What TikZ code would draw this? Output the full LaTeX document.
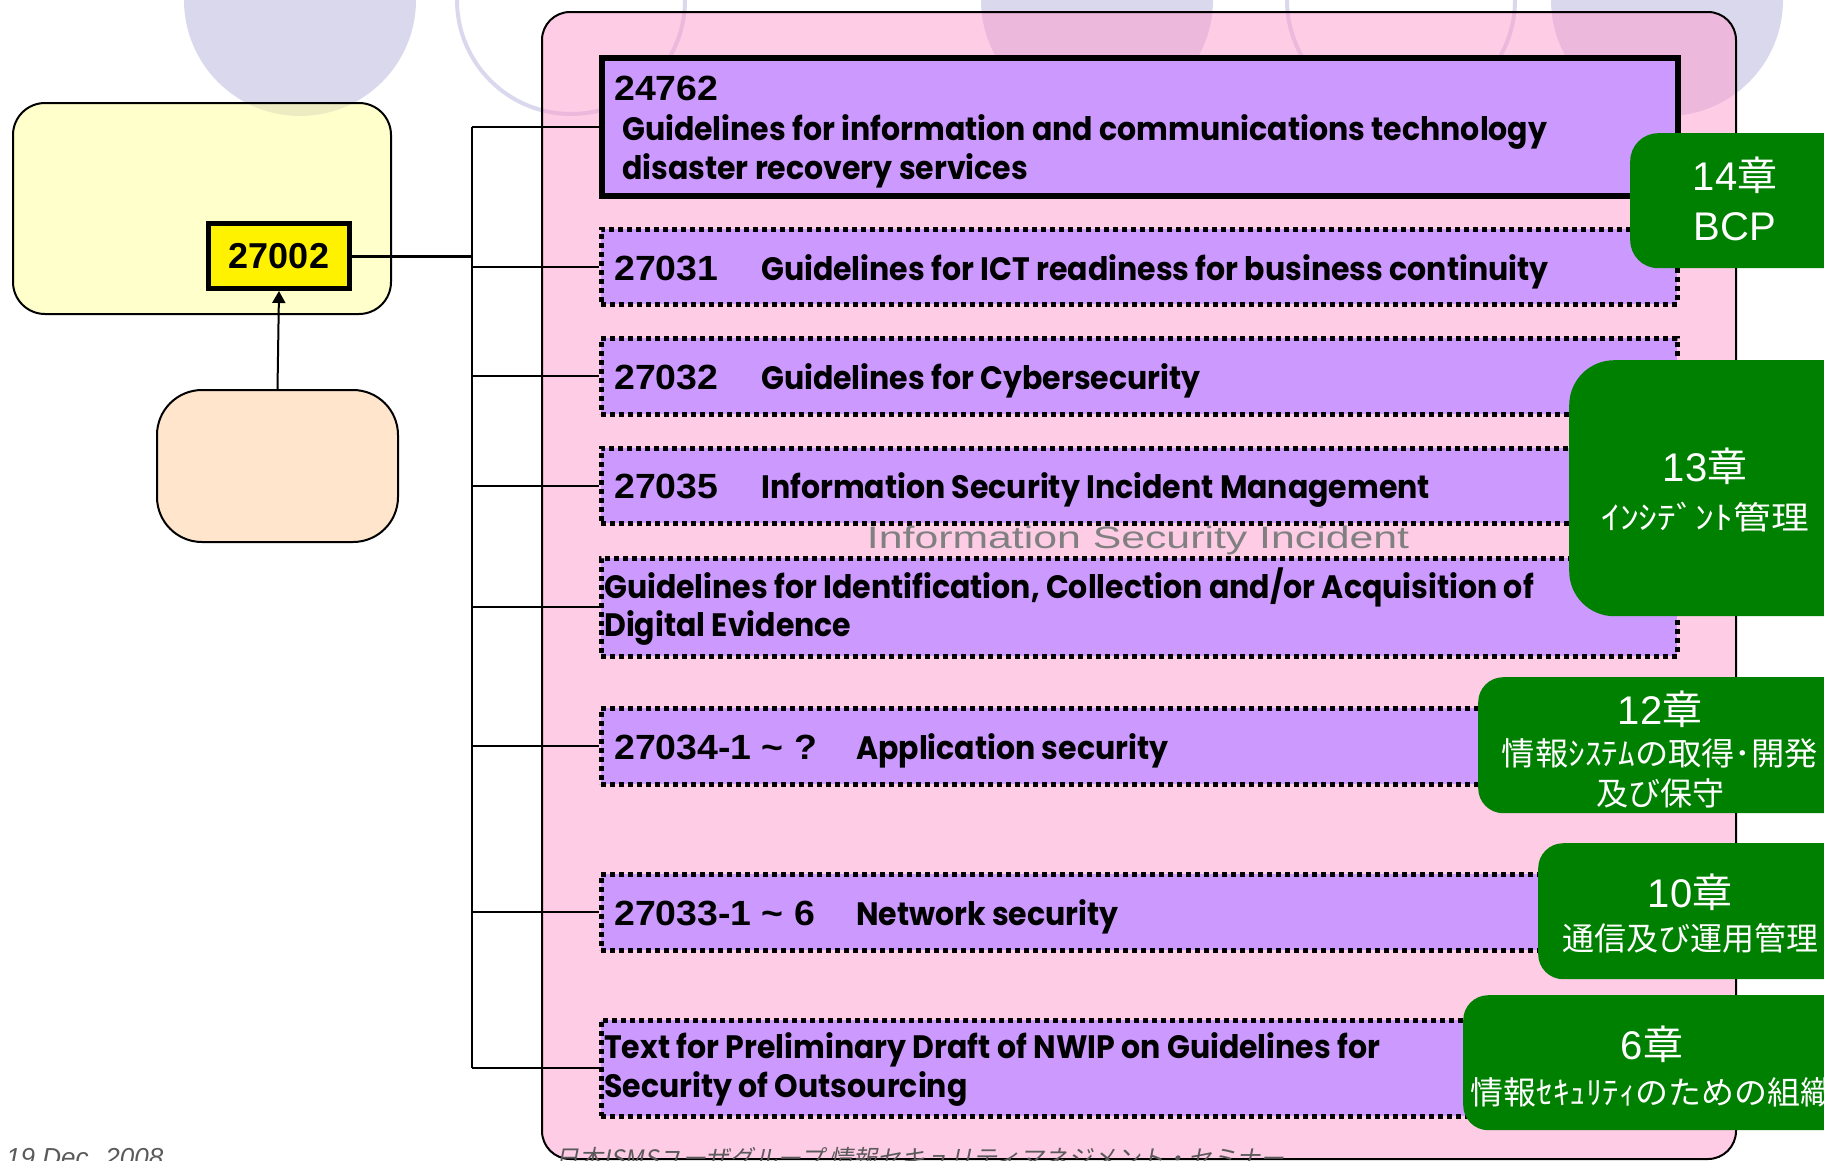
\documentclass[tikz,border=0pt]{standalone}
\usepackage{fontspec}
\setmainfont{Liberation Sans}
\newfontfamily\popfont{Poppins}
\newfontfamily\jpfont{Noto Sans CJK JP}
\newfontfamily\jpslant{Noto Sans CJK JP}[FakeSlant=0.2]
\usetikzlibrary{arrows.meta}

\definecolor{ringcol}{HTML}{DAD8EC}
\definecolor{pinkfill}{HTML}{FF99CD}
\definecolor{softyellow}{HTML}{FFFF99}
\definecolor{peach}{HTML}{FFE5CC}
\definecolor{stdviolet}{HTML}{CC99FF}
\definecolor{chapgreen}{HTML}{008000}
\definecolor{footgray}{HTML}{5A5A5A}

% titles are set slightly taller, numbers slightly wider than the fonts' own proportions
\newcommand{\tall}[1]{\scalebox{1}[1.08]{#1}}
\newcommand{\wide}[1]{\scalebox{1.07}[1]{#1}}

\tikzset{
  panel/.style={draw=black, line width=2pt, rounded corners=#1, anchor=north west, inner sep=0pt},
  stdbox/.style={draw=black, line width=5.5pt, fill=stdviolet, minimum width=1076pt, anchor=north west, inner sep=0pt},
  dotbox/.style={stdbox, line width=4.5pt, dash pattern=on 5pt off 4pt},
  chapbox/.style={fill=chapgreen, rounded corners=#1, anchor=north west, inner sep=0pt},
  stdtext/.style={anchor=base west, inner sep=0pt, font=\popfont\bfseries\fontsize{30}{36}\selectfont},
  stdnum/.style={anchor=base west, inner sep=0pt, font=\bfseries\fontsize{35}{42}\selectfont},
  chaphead/.style={anchor=base, inner sep=0pt, text=white, font=\fontsize{40}{48}\selectfont},
  chapsub/.style={anchor=base, inner sep=0pt, text=white, font=\jpfont\fontsize{32}{38}\selectfont},
  link/.style={draw=black, line width=2pt},
}

\begin{document}
\begin{tikzpicture}[x=1pt, y=-1pt]
\useasboundingbox (0,0) rectangle (1824,1160);
\clip (0,0) rectangle (1824,1160);

% decorative rings along the top edge
\fill[ringcol] (300,0) circle[radius=116pt];
\draw[ringcol, line width=4pt] (571,0) circle[radius=114pt];
\fill[ringcol] (1097,0) circle[radius=116pt];
\draw[ringcol, line width=4pt] (1401,0) circle[radius=114pt];
\fill[ringcol] (1667,0) circle[radius=116pt];

% large panels
\node[panel=28pt, fill=pinkfill, fill opacity=0.5, draw opacity=1,
      minimum width=1194pt, minimum height=1147pt] (pnl) at (541,11) {};
\node[panel=32pt, fill=softyellow, fill opacity=0.5, draw opacity=1,
      minimum width=378pt, minimum height=211pt] (ybox) at (12,102) {};
\node[panel=45pt, fill=peach, minimum width=241pt, minimum height=152pt] (obox) at (156,389) {};

% 27002
\node[draw=black, line width=5pt, fill=yellow, anchor=north west, inner sep=0pt,
      minimum width=141pt, minimum height=65pt,
      font=\bfseries\fontsize{36}{42}\selectfont] (iso) at (206,221) {27002};

% standards
\node[stdbox, minimum height=138pt] (b1) at (599,55) {};
\node[dotbox, minimum height=75pt] (b2) at (599,227) {};
\node[dotbox, minimum height=76pt] (b3) at (599,336) {};
\node[dotbox, minimum height=75pt] (b4) at (599,446) {};
\node[dotbox, minimum height=98pt] (b5) at (599,556) {};
\node[dotbox, minimum height=76pt] (b6) at (599,706) {};
\node[dotbox, minimum height=76pt] (b7) at (599,872) {};
\node[dotbox, minimum height=96pt] (b8) at (599,1018) {};

% connectors
\coordinate (tx) at (472,0);
\draw[link, -{Triangle[length=12pt,width=13pt]}] (obox.north) -- (iso.south);
\draw[draw=black, line width=3pt] (iso.east) -- (iso.east -| tx);
\draw[link] (b1.west -| tx) -- (b8.west -| tx);
\foreach \b in {b1,b2,b3,b4,b5,b6,b7,b8}
  \draw[link] (\b.west -| tx) -- (\b.west);

% labels
\node[stdnum] (t1a) at (614,100) {\wide{24762}};
\node[stdtext] (t1b) at (622,140) {\tall{Guidelines for information and communications technology}};
\node[stdtext] (t1c) at (622,179) {\tall{disaster recovery services}};
\node[stdnum] (t2a) at (614,280) {\wide{27031}};
\node[stdtext] (t2b) at (761,280) {\tall{Guidelines for ICT readiness for business continuity}};
\node[stdnum] (t3a) at (614,389) {\wide{27032}};
\node[stdtext] (t3b) at (761,389) {\tall{Guidelines for Cybersecurity}};
\node[stdnum] (t4a) at (614,498) {\wide{27035}};
\node[stdtext] (t4b) at (761,498) {\tall{Information Security Incident Management}};
\node[stdtext] (t5a) at (604,598) {\tall{Guidelines for Identification, Collection and/or Acquisition of}};
\node[stdtext] (t5b) at (604,636) {\tall{Digital Evidence}};
\node[stdnum] (t6a) at (614,759) {\wide{27034-1 \textasciitilde\ ?}};
\node[stdtext] (t6b) at (856,759) {\tall{Application security}};
\node[stdnum] (t7a) at (614,925) {\wide{27033-1 \textasciitilde\ 6}};
\node[stdtext] (t7b) at (856,925) {\tall{Network security}};
\node[stdtext] (t8a) at (604,1058) {\tall{Text for Preliminary Draft of NWIP on Guidelines for}};
\node[stdtext] (t8b) at (604,1097) {\tall{Security of Outsourcing}};

\node[anchor=base, inner sep=0pt, text=black!50, font=\fontsize{31}{37}\selectfont]
  (isi) at (1138,548) {\scalebox{1.38}[1]{Information Security Incident}};

% chapter tags
\node[chapbox=28pt, minimum width=240pt, minimum height=135pt] (g14) at (1630,133) {};
\node[chapbox=45pt, minimum width=301pt, minimum height=256pt] (g13) at (1569,360) {};
\node[chapbox=25pt, minimum width=392pt, minimum height=136pt] (g12) at (1478,677) {};
\node[chapbox=25pt, minimum width=332pt, minimum height=136pt] (g10) at (1538,843) {};
\node[chapbox=25pt, minimum width=407pt, minimum height=135pt] (g6) at (1463,995) {};

\node[chaphead] (c14a) at (1735,190) {14{\jpfont 章}};
\node[chaphead] (c14b) at (1735,240) {BCP};
\node[chaphead] (c13a) at (1705,481) {13{\jpfont 章}};
\node[chapsub] (c13b) at (1705,529) {\scalebox{1.18}[1]{ｲﾝｼﾃﾞﾝﾄ管理}};
\node[chaphead] (c12a) at (1660,724) {12{\jpfont 章}};
\node[chapsub] (c12b) at (1660,765) {\scalebox{1.04}[1]{情報ｼｽﾃﾑの取得･開発}};
\node[chapsub] (c12c) at (1660,805) {及び保守};
\node[chaphead] (c10a) at (1690,907) {10{\jpfont 章}};
\node[chapsub] (c10b) at (1690,950) {通信及び運用管理};
\node[chaphead] (c6a) at (1652,1059) {6{\jpfont 章}};
\node[chapsub] (c6b) at (1652,1104) {\scalebox{1.03}[1]{情報ｾｷｭﾘﾃｨのための組織}};

% footer
\node[anchor=base west, inner sep=0pt, text=footgray, font=\itshape\fontsize{26}{30}\selectfont]
  (date) at (6,1166) {19 Dec. 2008};
\node[anchor=base west, inner sep=0pt, text=footgray, font=\jpslant\fontsize{24}{28}\selectfont]
  (event) at (555,1167) {日本ISMSユーザグループ 情報セキュリティマネジメント・セミナー};
\end{tikzpicture}
\end{document}
